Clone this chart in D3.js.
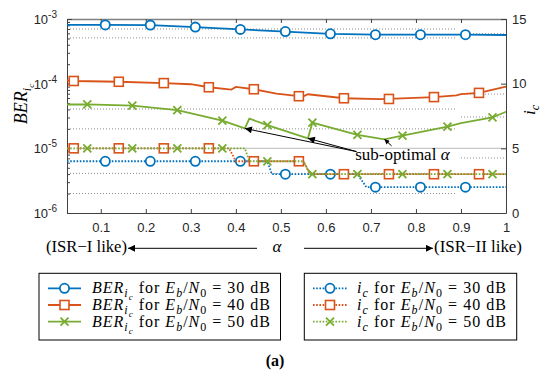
<!DOCTYPE html>
<html>
<head>
<meta charset="utf-8">
<script src="https://cdn.jsdelivr.net/npm/d3@7/dist/d3.min.js"></script>
<style>
body { margin: 0; background: #fff; }
text { font-family: "Liberation Sans", Arial, sans-serif; fill: #262626; }
.serif { font-family: "Liberation Serif", "Times New Roman", serif; fill: #000; white-space: pre; }
</style>
</head>
<body>
<svg id="chart" width="550" height="382"></svg>
<script>
// ---- data ----
var alphaTicks = [0.1, 0.2, 0.3, 0.4, 0.5, 0.6, 0.7, 0.8, 0.9, 1];
var berTicks = [1e-6, 1e-5, 1e-4, 1e-3];
var berTickLabels = ['-6', '-5', '-4', '-3'];
var icTicks = [0, 5, 10, 15];

// BER_ic curves [alpha, BER]
var ber30 = [[0.025, 8.1e-4], [0.11, 8.1e-4], [0.21, 8.05e-4], [0.31, 7.5e-4], [0.41, 6.9e-4], [0.51, 6.4e-4],
    [0.61, 5.9e-4], [0.71, 5.72e-4], [0.81, 5.72e-4], [0.91, 5.72e-4], [1.0, 5.66e-4]];
var ber40 = [[0.025, 1.12e-4], [0.04, 1.10e-4], [0.14, 1.07e-4], [0.24, 1.02e-4], [0.30, 9.8e-5], [0.34, 8.8e-5],
    [0.39, 8.1e-5], [0.40, 8.9e-5], [0.44, 8.2e-5], [0.49, 7.0e-5], [0.54, 6.4e-5], [0.55, 6.35e-5], [0.56, 6.85e-5],
    [0.64, 5.95e-5], [0.72, 5.75e-5], [0.74, 5.8e-5], [0.84, 6.2e-5], [0.89, 6.6e-5], [0.90, 6.9e-5], [0.94, 7.2e-5], [1.0, 9.0e-5]];
var ber50 = [[0.025, 4.76e-5], [0.07, 4.78e-5], [0.17, 4.56e-5], [0.27, 3.9e-5], [0.37, 2.68e-5], [0.42, 2.03e-5],
    [0.43, 2.87e-5], [0.47, 2.29e-5], [0.56, 1.43e-5], [0.57, 2.49e-5], [0.67, 1.61e-5], [0.73, 1.38e-5],
    [0.77, 1.57e-5], [0.87, 2.16e-5], [0.90, 2.46e-5], [0.97, 3.0e-5], [1.0, 3.68e-5]];

// i_c curves [alpha, i_c]
var ic30 = [[0.025, 4], [0.11, 4], [0.21, 4], [0.31, 4], [0.41, 4], [0.47, 4], [0.48, 3], [0.51, 3], [0.61, 3],
    [0.67, 3], [0.69, 2], [0.71, 2], [0.81, 2], [0.91, 2], [1.0, 2]];
var ic40 = [[0.025, 5], [0.04, 5], [0.14, 5], [0.24, 5], [0.34, 5], [0.385, 5], [0.40, 4], [0.44, 4], [0.54, 4],
    [0.55, 4], [0.565, 3], [0.64, 3], [0.74, 3], [0.84, 3], [0.94, 3], [1.0, 3]];
var ic50 = [[0.025, 5], [0.07, 5], [0.17, 5], [0.27, 5], [0.37, 5], [0.42, 5], [0.43, 4], [0.47, 4], [0.55, 4],
    [0.565, 3], [0.57, 3], [0.67, 3], [0.77, 3], [0.87, 3], [0.97, 3], [1.0, 3]];

// marker positions (alpha) for each Eb/N0
var mark30 = [0.11, 0.21, 0.31, 0.41, 0.51, 0.61, 0.71, 0.81, 0.91];
var mark40 = [0.04, 0.14, 0.24, 0.34, 0.44, 0.54, 0.64, 0.74, 0.84, 0.94];
var mark50 = [0.07, 0.17, 0.27, 0.37, 0.47, 0.57, 0.67, 0.77, 0.87, 0.97];

// faint dotted reference lines [BER, alphaFrom, alphaTo]
var refLines = [[7.0e-4, 0.025, 0.89], [5.1e-4, 0.025, 0.89], [5.9e-4, 0.9, 1], [4.05e-5, 0.025, 0.89],
    [2.0e-5, 0.025, 0.89], [6.9e-5, 0.9, 1], [3.05e-5, 0.9, 1], [7.1e-6, 0.9, 1], [4.1e-6, 0.025, 0.89], [2.0e-6, 0.025, 0.89]];

// annotation: arrow tails/targets [alpha, BER]
var annoTargets = [[0.668, 8.9e-6, 0.42, 2.03e-5], [0.668, 8.9e-6, 0.56, 1.43e-5], [0.746, 1.09e-5, 0.73, 1.38e-5]];

var series = [
    { ber: ber30, ic: ic30, marks: mark30, color: '#0072BD', shape: 'circle', snr: '30' },
    { ber: ber40, ic: ic40, marks: mark40, color: '#D95319', shape: 'square', snr: '40' },
    { ber: ber50, ic: ic50, marks: mark50, color: '#77AC30', shape: 'cross', snr: '50' }
];

var svg = d3.select('#chart');
var pL = 67, pR = 506, pT = 19, pB = 213;

var x = d3.scaleLinear().domain([0.025, 1]).range([pL, pR]);
var yL = d3.scaleLog().domain([1e-6, 1e-3]).range([pB, pT]);
var yR = d3.scaleLinear().domain([0, 15]).range([pB, pT]);

var defs = svg.append('defs');
defs.append('marker').attr('id', 'ah').attr('viewBox', '0 0 10 10').attr('refX', 10).attr('refY', 5)
    .attr('markerWidth', 9).attr('markerHeight', 7).attr('markerUnits', 'userSpaceOnUse').attr('orient', 'auto')
    .append('path').attr('d', 'M0,0L10,5L0,10z').attr('fill', '#000');
defs.append('marker').attr('id', 'ahs').attr('viewBox', '0 0 10 10').attr('refX', 10).attr('refY', 5)
    .attr('markerWidth', 7).attr('markerHeight', 5).attr('markerUnits', 'userSpaceOnUse').attr('orient', 'auto')
    .append('path').attr('d', 'M0,0L10,5L0,10z').attr('fill', '#000');

// reference lines
svg.append('g').selectAll('line').data(refLines).enter().append('line')
    .attr('x1', function (d) { return x(d[1]); }).attr('x2', function (d) { return x(d[2]); })
    .attr('y1', function (d) { return yL(d[0]); }).attr('y2', function (d) { return yL(d[0]); })
    .attr('stroke', '#8c8c8c').attr('stroke-width', 1).attr('stroke-dasharray', '1,2');
svg.append('line').attr('x1', x(0.025)).attr('x2', x(1)).attr('y1', yL(1e-5)).attr('y2', yL(1e-5))
    .attr('stroke', '#c8c8c8').attr('stroke-width', 1.2);

// axes
svg.append('g').attr('transform', 'translate(0,' + pB + ')')
    .call(d3.axisBottom(x).tickValues(alphaTicks).tickSize(-4).tickSizeOuter(0).tickPadding(10).tickFormat(d3.format('~g')))
    .call(function (g) { g.selectAll('text').style('font-size', '13px'); });
svg.append('g').attr('class', 'topaxis').attr('transform', 'translate(0,' + pT + ')')
    .call(d3.axisTop(x).tickValues(alphaTicks).tickSize(-4).tickSizeOuter(0).tickFormat(''));

var minor = [];
[1e-6, 1e-5, 1e-4].forEach(function (d) { for (var k = 2; k <= 9; k++) minor.push(d * k); });
svg.append('g').attr('transform', 'translate(' + pL + ',0)')
    .call(d3.axisLeft(yL).tickValues(minor).tickSize(-3).tickSizeOuter(0).tickFormat(''));
svg.append('g').attr('transform', 'translate(' + pL + ',0)')
    .call(d3.axisLeft(yL).tickValues(berTicks).tickSize(-5).tickSizeOuter(0).tickFormat(''));
berTicks.forEach(function (v, i) {
    var t = svg.append('text').attr('x', 57).attr('y', yL(v) + 5).attr('text-anchor', 'end').style('font-size', '13px');
    t.append('tspan').text('10');
    t.append('tspan').attr('dy', -6).style('font-size', '10px').text(berTickLabels[i]);
});
svg.append('g').attr('transform', 'translate(' + pR + ',0)')
    .call(d3.axisRight(yR).tickValues(icTicks).tickSize(-5).tickSizeOuter(0).tickPadding(6))
    .call(function (g) { g.selectAll('text').style('font-size', '13px'); });
svg.selectAll('.domain').attr('stroke', '#404040');
svg.selectAll('.tick line').attr('stroke', '#404040');
svg.select('.topaxis .domain').attr('stroke', '#808080').attr('stroke-width', 1.5);

function drawMarker(g, shape, cx, cy, color) {
    if (shape === 'circle') {
        g.append('circle').attr('cx', cx).attr('cy', cy).attr('r', 4.6)
            .attr('fill', '#fff').attr('stroke', color).attr('stroke-width', 1.8);
    } else if (shape === 'square') {
        g.append('rect').attr('x', cx - 4.5).attr('y', cy - 4.5).attr('width', 9).attr('height', 9)
            .attr('fill', '#fff').attr('stroke', color).attr('stroke-width', 1.6);
    } else {
        g.append('path').attr('d', 'M' + (cx - 4) + ',' + (cy - 4) + 'L' + (cx + 4) + ',' + (cy + 4) +
            'M' + (cx - 4) + ',' + (cy + 4) + 'L' + (cx + 4) + ',' + (cy - 4))
            .attr('stroke', color).attr('stroke-width', 1.8).attr('fill', 'none');
    }
}

var plot = svg.append('g');
var lineL = d3.line().x(function (d) { return x(d[0]); }).y(function (d) { return yL(d[1]); });
var lineR = d3.line().x(function (d) { return x(d[0]); }).y(function (d) { return yR(d[1]); });

series.forEach(function (s) {
    plot.append('path').attr('d', lineR(s.ic)).attr('fill', 'none').attr('stroke', s.color)
        .attr('stroke-width', 1.8).attr('stroke-dasharray', '1.6,1.6');
    s.ic.filter(function (d) { return s.marks.indexOf(d[0]) >= 0; }).forEach(function (d) {
        drawMarker(plot, s.shape, x(d[0]), yR(d[1]), s.color);
    });
});
series.forEach(function (s) {
    plot.append('path').attr('d', lineL(s.ber)).attr('fill', 'none').attr('stroke', s.color).attr('stroke-width', 1.8);
    s.ber.filter(function (d) { return s.marks.indexOf(d[0]) >= 0; }).forEach(function (d) {
        drawMarker(plot, s.shape, x(d[0]), yL(d[1]), s.color);
    });
});

// annotation
annoTargets.forEach(function (a, i) {
    svg.append('line').attr('x1', x(a[0])).attr('y1', yL(a[1])).attr('x2', x(a[2])).attr('y2', yL(a[3]))
        .attr('stroke', '#000').attr('stroke-width', 1).attr('marker-end', i < 2 ? 'url(#ah)' : 'url(#ahs)');
});

function richText(g, tx, ty, parts, size) {
    var t = g.append('text').attr('class', 'serif').attr('x', tx).attr('y', ty).style('font-size', size + 'px');
    var cur = 0;
    parts.forEach(function (p) {
        var off = p[2] || 0;
        t.append('tspan').attr('dy', off - cur).style('font-style', p[1] ? 'italic' : 'normal')
            .style('font-size', (p[3] || size) + 'px').text(p[0]);
        cur = off;
    });
    return t;
}

richText(svg, x(0.665), 160, [['sub-optimal '], ['\u03b1', 1]], 17);

// x label + direction arrows
richText(svg, 277, 252, [['\u03b1', 1]], 17).attr('text-anchor', 'middle');
richText(svg, 46, 252, [['(ISR\u2212I like)']], 16).attr('textLength', 81).attr('lengthAdjust', 'spacingAndGlyphs');
richText(svg, 434, 252, [['(ISR\u2212II like)']], 16).attr('textLength', 88).attr('lengthAdjust', 'spacingAndGlyphs');
svg.append('line').attr('x1', 257).attr('y1', 248.3).attr('x2', 128).attr('y2', 248.3)
    .attr('stroke', '#000').attr('stroke-width', 1).attr('marker-end', 'url(#ah)');
svg.append('line').attr('x1', 304).attr('y1', 248.3).attr('x2', 433).attr('y2', 248.3)
    .attr('stroke', '#000').attr('stroke-width', 1).attr('marker-end', 'url(#ah)');

// y labels
richText(svg, 0, 0, [['BER', 1], ['i', 1, 4, 12], ['c', 1, 7, 9]], 18)
    .attr('text-anchor', 'middle').attr('transform', 'translate(27,104) rotate(-90)');
richText(svg, 0, 0, [['i', 1], ['c', 1, 4, 12]], 17)
    .attr('text-anchor', 'middle').attr('transform', 'translate(535,110) rotate(-90)');

// legends
var legL = svg.append('g');
legL.append('rect').attr('x', 39).attr('y', 273.3).attr('width', 241.5).attr('height', 66.7)
    .attr('fill', '#fff').attr('stroke', '#000').attr('stroke-width', 1);
var legR = svg.append('g');
legR.append('rect').attr('x', 304.3).attr('y', 273.3).attr('width', 212.4).attr('height', 66.7)
    .attr('fill', '#fff').attr('stroke', '#000').attr('stroke-width', 1);

series.forEach(function (s, i) {
    var cy = 288.3 + i * 16.7;
    legL.append('line').attr('x1', 48).attr('x2', 81).attr('y1', cy).attr('y2', cy)
        .attr('stroke', s.color).attr('stroke-width', 1.8);
    drawMarker(legL, s.shape, 64.5, cy, s.color);
    richText(legL, 92, cy + 5, [['BER', 1], ['i', 1, 4, 12], ['c', 1, 7, 9], [' for '], ['E', 1], ['b', 1, 4, 12],
        ['/'], ['N', 1], ['0', 0, 4, 12], [' = ' + s.snr + ' dB']], 16)
        .attr('textLength', 178).attr('lengthAdjust', 'spacing');

    legR.append('line').attr('x1', 313).attr('x2', 347).attr('y1', cy).attr('y2', cy)
        .attr('stroke', s.color).attr('stroke-width', 1.8).attr('stroke-dasharray', '1.6,1.6');
    drawMarker(legR, s.shape, 330, cy, s.color);
    richText(legR, 357, cy + 5, [['i', 1], ['c', 1, 4, 12], [' for '], ['E', 1], ['b', 1, 4, 12],
        ['/'], ['N', 1], ['0', 0, 4, 12], [' = ' + s.snr + ' dB']], 16)
        .attr('textLength', 149).attr('lengthAdjust', 'spacing');
});

richText(svg, 275, 366, [['(a)']], 16).attr('text-anchor', 'middle').style('font-weight', 'bold');
</script>
</body>
</html>
